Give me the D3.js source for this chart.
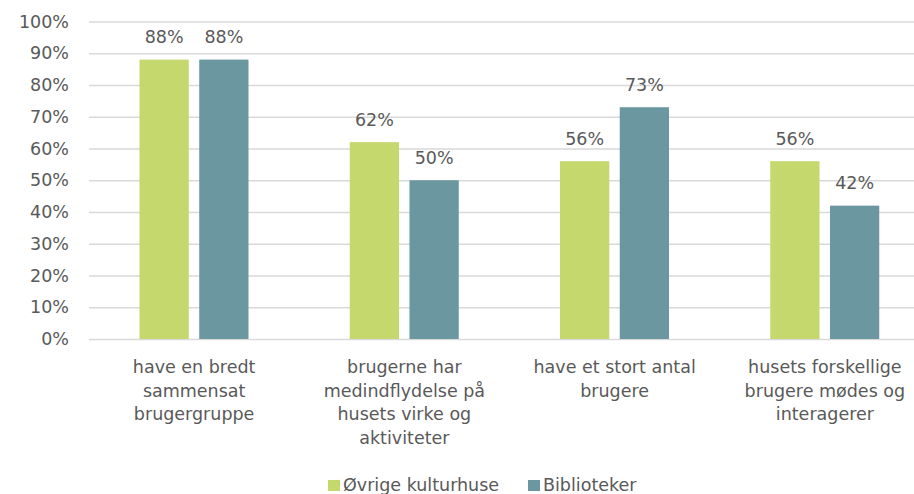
<!DOCTYPE html>
<html><head><meta charset="utf-8">
<script src="https://cdn.jsdelivr.net/npm/d3@7"></script>
<style>body{margin:0;background:#fff}svg{display:block}text{font-family:"DejaVu Sans",sans-serif;fill:#595959}</style>
</head><body><svg id="c" width="914" height="494"></svg>
<script>
const categories = [
  ["have en bredt","sammensat","brugergruppe"],
  ["brugerne har","medindflydelse på","husets virke og","aktiviteter"],
  ["have et stort antal","brugere"],
  ["husets forskellige","brugere mødes og","interagerer"]
];
const seriesNames = ["Øvrige kulturhuse","Biblioteker"];
const kulturhuse = [88,62,56,56];
const biblioteker = [88,50,73,42];
const yTicks = [0,10,20,30,40,50,60,70,80,90,100];
const colors = ["#c5d86d","#6a97a0"];

const svg = d3.select("#c");
const pL = 89, pR = 930, pT = 21.5, pB = 339;
const fs = 17.5;
const x = d3.scaleBand().domain(d3.range(categories.length)).range([pL,pR]);
const xi = d3.scaleBand().domain([0,1]).range([50.5, 210-50.5]).paddingInner(0.175);
const y = d3.scaleLinear().domain([0,100]).range([pB, pT]);

const yAxis = d3.axisLeft(y).tickValues(yTicks).tickFormat(d=>d+"%").tickSize(-(pR-pL)).tickPadding(20);
const ga = svg.append("g").attr("transform",`translate(${pL},0)`).call(yAxis);
ga.select(".domain").remove();
ga.selectAll(".tick line").attr("stroke","#d9d9d9").attr("stroke-width",1.3);
ga.selectAll(".tick text").attr("font-size",fs).attr("font-family","DejaVu Sans").style("fill","#595959");

const series = [kulturhuse, biblioteker];
series.forEach((vals,si)=>{
  const g = svg.append("g");
  g.selectAll("rect").data(vals).join("rect")
    .attr("x",(d,i)=>x(i)+xi(si)).attr("width",xi.bandwidth())
    .attr("y",d=>y(d)).attr("height",d=>pB-y(d)).attr("fill",colors[si]);
  g.selectAll("text").data(vals).join("text")
    .attr("x",(d,i)=>x(i)+xi(si)+xi.bandwidth()/2).attr("y",d=>y(d)-16.5)
    .attr("text-anchor","middle").attr("font-size",fs).text(d=>d+"%");
});

const gl = svg.append("g");
categories.forEach((lines,i)=>{
  const t = gl.append("text").attr("text-anchor","middle").attr("font-size",fs);
  lines.forEach((ln,j)=>t.append("tspan").attr("x",x(i)+x.bandwidth()/2).attr("y",373+j*23.5).text(ln));
});

const legX = [328, 528];
seriesNames.forEach((n,i)=>{
  svg.append("rect").attr("x",legX[i]).attr("y",480).attr("width",12).attr("height",11).attr("fill",colors[i]);
  svg.append("text").attr("x",legX[i]+15).attr("y",491).attr("font-size",fs).text(n);
});
</script></body></html>
